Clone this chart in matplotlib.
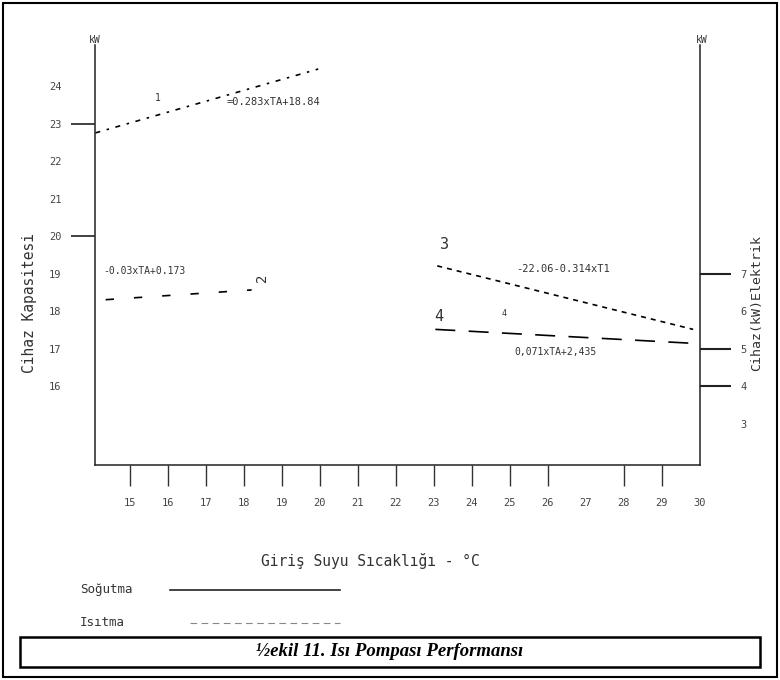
import matplotlib
matplotlib.use("Agg")
import matplotlib.pyplot as plt
from matplotlib.lines import Line2D
from matplotlib.patches import Rectangle

# ---- data ----
x_ticks = [15, 16, 17, 18, 19, 20, 21, 22, 23, 24, 25, 26, 27, 28, 29, 30]
x_tick_marks = [15, 16, 17, 18, 19, 20, 21, 22, 23, 24, 25, 26, 28, 29]
left_ticks = [16, 17, 18, 19, 20, 21, 22, 23, 24]
left_tick_marks = [20, 23]
right_ticks = [3, 4, 5, 6, 7]
right_tick_marks = [4, 5, 7]

# capacity lines (left axis, kW)
heat_cap_x = [14.1, 19.96]
heat_cap_y = [22.75, 24.45]
cool_cap_x = [14.37, 18.21]
cool_cap_y = [18.31, 18.57]
# electric power lines (right axis, kW)
heat_el_x = [23.09, 29.82]
heat_el_y = [7.21, 5.52]
cool_el_x = [23.04, 29.79]
cool_el_y = [5.52, 5.15]

eq1 = "=0.283xTA+18.84"
eq2 = "-0.03xTA+0.173"
eq3 = "-22.06-0.314xT1"
eq4 = "0,071xTA+2,435"
x_label = "Giriş Suyu Sıcaklığı - °C"
left_label = "Cihaz Kapasitesi"
right_label = "Cihaz(kW)Elektrik"
legend_labels = ["Soğutma", "Isıtma"]
caption = "½ekil 11. Isı Pompası Performansı"

mono = ["DejaVu Sans Mono"]
tc = "#333333"

W, H = 780, 680
fig = plt.figure(figsize=(7.8, 6.8), dpi=100)
fig.patch.set_facecolor("white")

def fx(px):
    return px / W

def fy(py):
    return 1 - py / H

ax = fig.add_axes([fx(95), fy(465), fx(700) - fx(95), fy(45) - fy(465)])
ax.set_xlim(14.09, 29.87)
ax.set_ylim(13.91, 25.09)
ax2 = ax.twinx()
ax2.set_ylim(1.91, 13.09)

for a in (ax, ax2):
    a.patch.set_alpha(0)
    a.spines["top"].set_visible(False)
    for s in ("left", "right", "bottom"):
        a.spines[s].set_linewidth(1.1)
        a.spines[s].set_color("#222222")
    a.xaxis.remove_overlapping_locs = False
    a.yaxis.remove_overlapping_locs = False
ax.spines["right"].set_visible(False)
ax2.spines["left"].set_visible(False)
ax2.spines["bottom"].set_visible(False)

# x ticks
ax.set_xticks(x_ticks)
ax.set_xticklabels([str(v) for v in x_ticks], fontsize=7.5, family=mono, color="#444444")
ax.tick_params(axis="x", which="major", length=0, pad=24)
ax.set_xticks(x_tick_marks, minor=True)
ax.tick_params(axis="x", which="minor", length=15, width=1.0, color="#333333", direction="out")

# left y ticks
ax.set_yticks(left_ticks)
ax.set_yticklabels([str(v) for v in left_ticks], fontsize=7.5, family=mono, color="#444444")
ax.tick_params(axis="y", which="major", length=0, pad=24)
ax.set_yticks(left_tick_marks, minor=True)
ax.tick_params(axis="y", which="minor", length=17, width=1.2, color="#222222", direction="out")

# right y ticks
ax2.set_yticks(right_ticks)
ax2.set_yticklabels([str(v) for v in right_ticks], fontsize=7.5, family=mono, color="#444444")
ax2.tick_params(axis="y", which="major", length=0, pad=29)
ax2.set_yticks(right_tick_marks, minor=True)
ax2.tick_params(axis="y", which="minor", length=22, width=1.5, color="#222222", direction="out")

# lines
ax.plot(heat_cap_x, heat_cap_y, color="black", lw=1.2, dashes=(3, 4, 1.5, 4))
ax.plot(cool_cap_x, cool_cap_y, color="black", lw=1.2, dashes=(5, 12))
ax2.plot(heat_el_x, heat_el_y, color="black", lw=1.2, dashes=(3, 3))
ax2.plot(cool_el_x, cool_el_y, color="black", lw=1.2, dashes=(12, 8))

# annotations
ax.text(15.73, 23.68, "1", fontsize=7, family=mono, color=tc, ha="center", va="center")
ax.text(17.56, 23.57, eq1, fontsize=7.5, family=mono, color=tc, ha="left", va="center")
ax.text(14.30, 19.08, eq2, fontsize=7, family=mono, color=tc, ha="left", va="center")
ax.text(18.47, 18.9, "2", fontsize=10, family=mono, color=tc, ha="center", va="center", rotation=90)
ax2.text(23.27, 7.77, "3", fontsize=11, family=mono, color=tc, ha="center", va="center")
ax2.text(25.17, 7.13, eq3, fontsize=7.5, family=mono, color=tc, ha="left", va="center")
ax2.text(23.14, 5.86, "4", fontsize=11, family=mono, color=tc, ha="center", va="center")
ax2.text(24.86, 5.94, "4", fontsize=6, family=mono, color=tc, ha="center", va="center")
ax2.text(25.12, 4.91, eq4, fontsize=7, family=mono, color=tc, ha="left", va="center")

# unit labels
fig.text(fx(95), fy(40), "kW", fontsize=7, family=mono, color=tc, ha="center", va="center")
fig.text(fx(702), fy(40), "kW", fontsize=7, family=mono, color=tc, ha="center", va="center")

# axis labels
fig.text(fx(370), fy(561), x_label, fontsize=10.5, family=mono, color=tc, ha="center", va="center")
fig.text(fx(30), fy(303), left_label, fontsize=10.5, family=mono, color=tc, ha="center",
         va="center", rotation=90)
fig.text(fx(757), fy(303), right_label, fontsize=9.5, family=mono, color=tc, ha="center",
         va="center", rotation=90)

# legend
fig.text(fx(80), fy(590), legend_labels[0], fontsize=9, family=mono, color=tc, ha="left", va="center")
fig.text(fx(80), fy(623), legend_labels[1], fontsize=9, family=mono, color=tc, ha="left", va="center")
fig.add_artist(Line2D([fx(170), fx(340)], [fy(590), fy(590)], color="#222222", lw=1.2,
                      transform=fig.transFigure))
fig.add_artist(Line2D([fx(190), fx(340)], [fy(623), fy(623)], color="#888888", lw=0.8,
                      dashes=(6, 4), transform=fig.transFigure))

# caption box
fig.add_artist(Rectangle((fx(20), fy(667)), fx(760) - fx(20), fy(637) - fy(667),
                         fill=False, ec="black", lw=1.8, transform=fig.transFigure))
fig.text(fx(390), fy(652), caption, fontsize=13.5, family=["Liberation Serif"],
         fontweight="bold", fontstyle="italic", ha="center", va="center", color="black")

# outer frame
fig.add_artist(Rectangle((fx(3), fy(677)), fx(777) - fx(3), fy(3) - fy(677),
                         fill=False, ec="black", lw=1.5, transform=fig.transFigure))

fig.savefig("out.png", dpi=100, facecolor="white")
